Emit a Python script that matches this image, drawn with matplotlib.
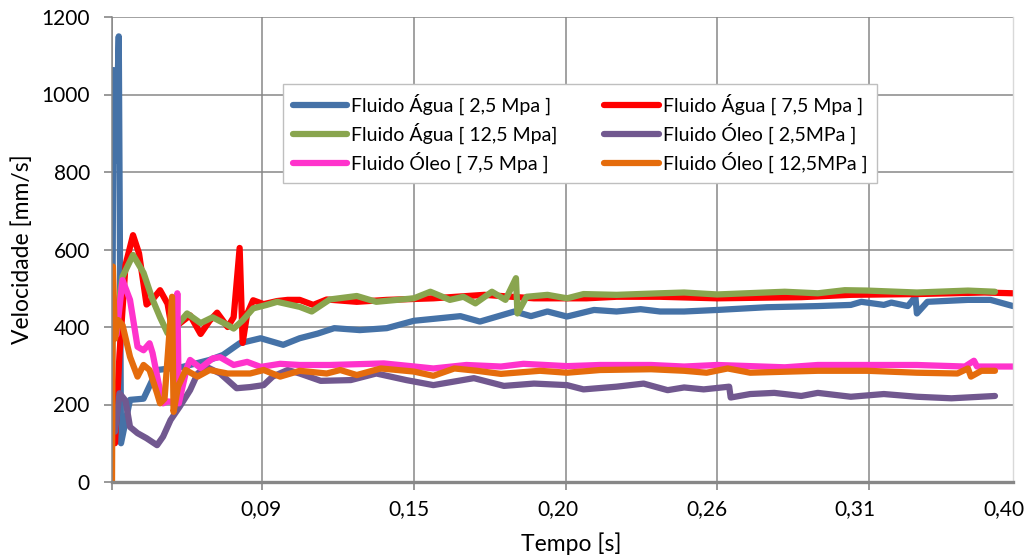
import matplotlib
matplotlib.use("Agg")
import matplotlib.pyplot as plt
from matplotlib.ticker import FixedLocator, NullFormatter, FixedFormatter

plt.rcParams['font.family'] = ['Lato', 'DejaVu Sans']

# sample index along the time (category) axis, velocity in mm/s
agua_25_x = [0, 1, 2.5, 4.5, 6, 12, 21, 30, 47, 65, 74, 85, 99, 114, 125, 137, 148, 165, 183, 201,
             214, 232, 245, 268, 279, 290, 303, 321, 336, 352, 365, 381, 403, 436, 470, 492, 499,
             514, 519, 530, 535, 536, 543, 570, 585, 600]
agua_25_v = [150, 1063, 830, 1150, 100, 212, 215, 289, 297, 315, 328, 358, 371, 354, 371, 383, 397,
             392, 397, 416, 421, 428, 414, 440, 428, 440, 427, 444, 440, 446, 440, 440, 444, 451,
             454, 457, 465, 457, 463, 454, 478, 435, 465, 470, 470, 454]

agua_75_x = [2, 5, 9, 14, 18, 23, 27, 32, 37, 40, 45, 52, 59, 65, 70, 77, 81, 85, 87, 90, 94, 101,
             110, 117, 125, 134, 143, 163, 183, 214, 248, 281, 316, 336, 365, 403, 459, 492, 536,
             581, 600]
agua_75_v = [100, 330, 560, 637, 590, 458, 471, 495, 460, 392, 409, 430, 382, 416, 437, 400, 425,
             604, 359, 434, 469, 459, 467, 470, 470, 457, 471, 465, 470, 474, 483, 474, 474, 478,
             478, 474, 477, 483, 485, 489, 487]

agua_125_x = [2, 4, 7, 14, 21, 27, 32, 37, 43, 50, 59, 67, 77, 81, 87, 94, 103, 110, 125, 133, 145,
              163, 176, 201, 212, 225, 234, 242, 253, 262, 269, 270, 276, 290, 303, 314, 336, 365,
              381, 403, 448, 470, 488, 503, 536, 570, 588]
agua_125_v = [420, 444, 530, 586, 540, 471, 425, 384, 403, 435, 410, 425, 405, 396, 417, 448, 457,
              465, 452, 440, 471, 480, 465, 474, 491, 470, 478, 461, 491, 470, 526, 435, 478, 483,
              474, 485, 483, 487, 489, 484, 491, 487, 495, 494, 489, 494, 491]

oleo_25_x = [2, 5, 9, 12, 17, 23, 30, 34, 39, 45, 52, 57, 63, 72, 83, 92, 101, 107, 117, 125, 139,
             159, 176, 196, 214, 241, 261, 281, 303, 314, 336, 354, 370, 381, 394, 411, 412, 425,
             441, 459, 470, 492, 514, 536, 559, 588]
oleo_25_v = [130, 229, 210, 142, 126, 113, 95, 117, 160, 194, 237, 280, 297, 280, 242, 245, 250,
             272, 289, 280, 261, 263, 280, 263, 250, 268, 248, 254, 250, 239, 246, 254, 237, 244,
             239, 246, 218, 227, 230, 222, 230, 220, 227, 220, 216, 222]

oleo_75_x = [3, 7, 12, 17, 21, 25, 27, 31, 34, 37, 42, 43.5, 44.5, 50, 52, 59, 67, 72, 81, 90, 99,
             112, 125, 145, 181, 199, 214, 236, 259, 274, 303, 325, 359, 381, 403, 448, 470, 514,
             536, 568, 574, 576, 600]
oleo_75_v = [380, 521, 470, 349, 340, 358, 333, 255, 203, 208, 206, 487, 203, 297, 315, 294, 319,
             322, 302, 310, 297, 305, 302, 302, 306, 299, 293, 302, 298, 305, 299, 302, 302, 298,
             302, 296, 302, 302, 302, 298, 313, 298, 298]

oleo_125_x = [0, 0.6, 2, 4, 7, 12, 17, 21, 25, 30, 32, 35, 40, 41, 44, 49, 57, 65, 77, 92, 101, 112,
              125, 143, 152, 163, 179, 201, 214, 228, 243, 259, 285, 303, 325, 359, 381, 396, 410,
              425, 470, 503, 536, 563, 570, 572, 579, 588]
oleo_125_v = [0, 556, 370, 418, 405, 323, 272, 302, 289, 229, 203, 215, 478, 181, 246, 289, 272,
              289, 280, 280, 289, 272, 287, 280, 289, 276, 293, 285, 274, 293, 287, 279, 287, 282,
              289, 291, 287, 282, 293, 282, 287, 287, 282, 280, 293, 272, 287, 287]

series = [
    ("Fluido Água [ 2,5 Mpa ]", agua_25_x, agua_25_v, "#4572A7"),
    ("Fluido Água [ 7,5 Mpa ]", agua_75_x, agua_75_v, "#FF0000"),
    ("Fluido Água [ 12,5 Mpa]", agua_125_x, agua_125_v, "#89A54E"),
    ("Fluido Óleo [ 2,5MPa ]", oleo_25_x, oleo_25_v, "#71588F"),
    ("Fluido Óleo [ 7,5 Mpa ]", oleo_75_x, oleo_75_v, "#FF33CC"),
    ("Fluido Óleo [ 12,5MPa ]", oleo_125_x, oleo_125_v, "#E56C0C"),
]

grid_pos = [0, 100, 201, 302, 403, 504]
label_pos = [99, 198, 297, 396, 495, 594]
tick_labels = ["0,09", "0,15", "0,20", "0,26", "0,31", "0,40"]

fig = plt.figure(figsize=(10.29, 5.6), dpi=100)
ax = fig.add_axes([112 / 1029, 1 - 482 / 560, 901 / 1029, 465 / 560])

handles = []
for name, xs, vs, col in series:
    h, = ax.plot(xs, vs, color=col, lw=4.5, label=name, solid_joinstyle="round",
                 solid_capstyle="round")
    handles.append(h)

ax.set_xlim(0, 600)
ax.set_ylim(0, 1200)
ax.set_yticks(range(0, 1201, 200))

ax.xaxis.set_major_locator(FixedLocator(grid_pos))
ax.xaxis.set_major_formatter(NullFormatter())
ax.xaxis.set_minor_locator(FixedLocator(label_pos))
ax.xaxis.set_minor_formatter(FixedFormatter(tick_labels))
ax.tick_params(axis="x", which="major", length=6, width=1.2, color="#878787")
ax.tick_params(axis="x", which="minor", length=0, pad=12, labelsize=15)
ax.tick_params(axis="y", length=6, width=1.2, color="#878787", pad=10, labelsize=15)

ax.grid(True, which="major", color="#878787", lw=1.1)
ax.set_axisbelow(True)

ax.spines["top"].set_visible(False)
ax.spines["right"].set_color("#D9D9D9")
ax.spines["right"].set_linewidth(1)
ax.spines["left"].set_color("#878787")
ax.spines["left"].set_linewidth(1.1)
ax.spines["bottom"].set_color("#878787")
ax.spines["bottom"].set_linewidth(2.4)

ax.set_ylabel("Velocidade [mm/s]", fontsize=16.5)
ax.yaxis.set_label_coords(-0.088, 0.5)
ax.set_xlabel("Tempo [s]", fontsize=16.5)
ax.xaxis.set_label_coords(0.51, -0.108)

# legend is filled row by row in the reference: reorder for column-major filling
order = [0, 2, 4, 1, 3, 5]
leg = ax.legend([handles[i] for i in order], [series[i][0] for i in order],
                ncol=2, loc="upper left", bbox_to_anchor=(0.19, 0.856), borderaxespad=0,
                fontsize=14, handlelength=2.8, handletextpad=0.2, columnspacing=2.4,
                labelspacing=0.4, borderpad=0.5, fancybox=False, framealpha=1)
leg.get_frame().set_edgecolor("#BFBFBF")
leg.get_frame().set_linewidth(1)
for line in leg.get_lines():
    line.set_linewidth(4.5)

fig.savefig("out.png", dpi=100)
